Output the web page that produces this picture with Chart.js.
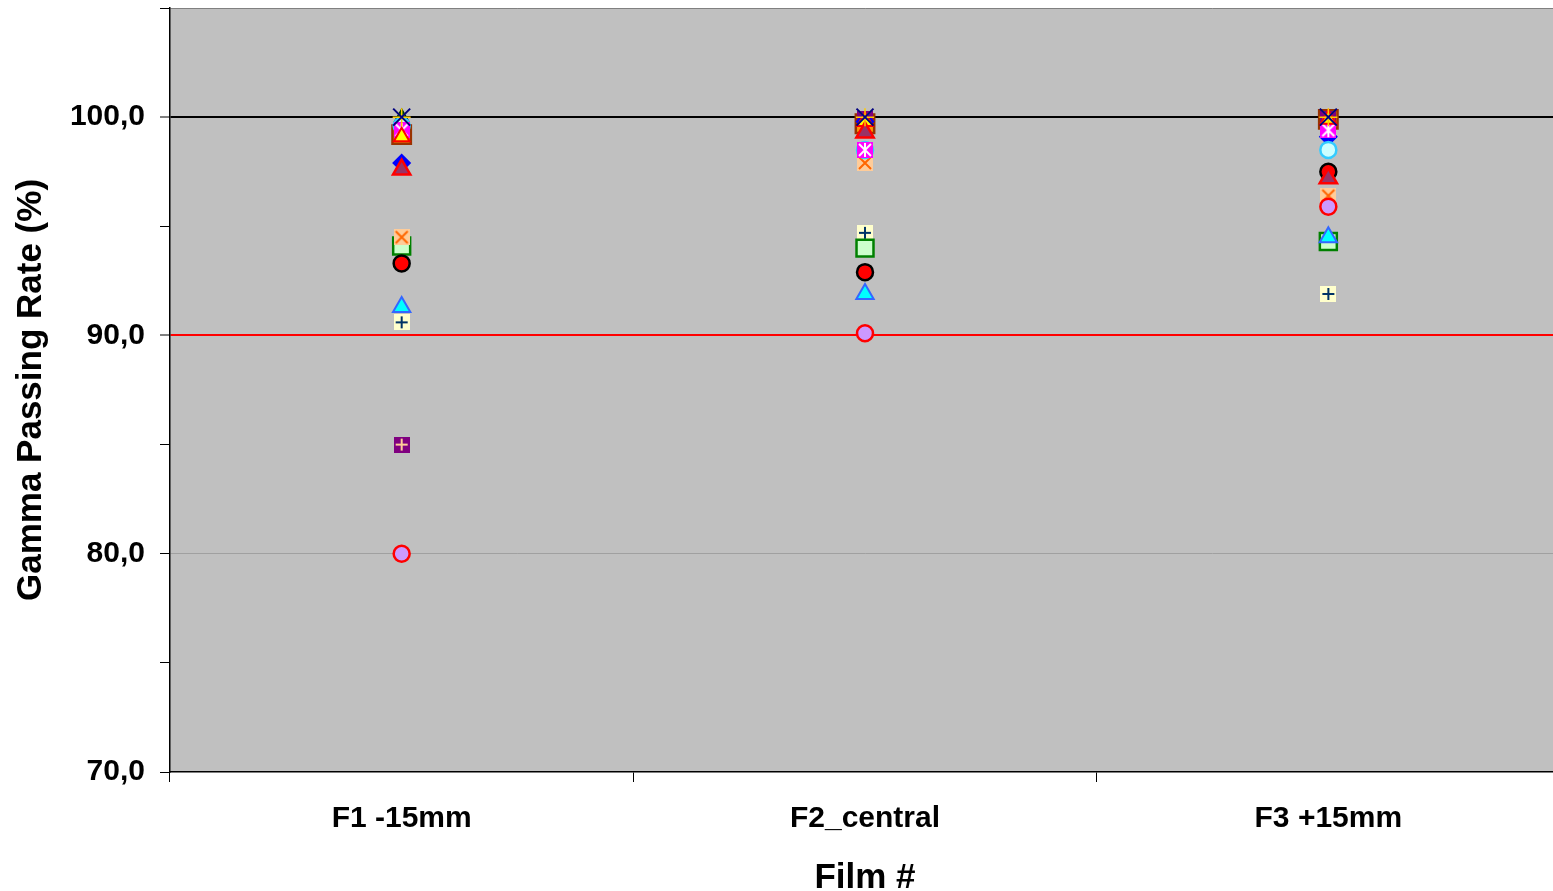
<!DOCTYPE html>
<html>
<head>
<meta charset="utf-8">
<script src="https://cdn.jsdelivr.net/npm/chart.js@4/dist/chart.umd.min.js"></script>
<style>
  html, body { margin: 0; padding: 0; background: #fff; overflow: hidden; }
  #wrap { width: 1561px; height: 891px; }
</style>
</head>
<body>
<div id="wrap"><canvas id="myChart" width="1561" height="891"></canvas></div>
<script>
// categories (films)
const films = ['F1 -15mm', 'F2_central', 'F3 +15mm'];

// gamma passing rates (%) per series
const navyX = [100.0, 100.0, 100.0];
const yellowStar = [100.0, 100.0, 100.0];
const cyanTri = [91.3, 91.9, 94.5];
const lavenderCircle = [80.0, 90.1, 95.9];
const redTri = [97.6, 99.3, 97.2];
const redCircle = [93.3, 92.9, 97.5];
const yellowTri = [99.1, 99.8, 99.9];
const magentaStar = [99.4, 98.5, 99.4];
const cyanCircle = [99.6, 98.5, 98.5];
const blueDiamond = [97.9, 99.8, 99.1];
const greenTri = [100.0, 99.8, 99.9];
const orangeXBox = [94.5, 97.9, 96.4];
const greenSquare = [94.1, 94.0, 94.3];
const plusBox = [90.6, 94.7, 91.9];
const purplePlusBox = [85.0, 99.9, 99.9];
const brownSquare = [99.2, 99.7, 99.9];

// y axis ticks
const yMin = 70, yMax = 105, yStep = 5;
const labelledTicks = [70, 80, 90, 100];

// small canvases for the Excel-style boxed markers
function boxMarker(fill, stroke, kind) {
  const s = 16;
  const c = document.createElement('canvas');
  c.width = s; c.height = s;
  const g = c.getContext('2d');
  g.fillStyle = fill;
  g.fillRect(0, 0, s, s);
  g.strokeStyle = stroke;
  g.lineWidth = 2;
  g.beginPath();
  if (kind === 'x' || kind === 'star') {
    g.moveTo(2, 2); g.lineTo(s - 2, s - 2);
    g.moveTo(s - 2, 2); g.lineTo(2, s - 2);
  }
  if (kind === 'plus') {
    g.moveTo(s / 2, 2); g.lineTo(s / 2, s - 2);
    g.moveTo(2, s / 2); g.lineTo(s - 2, s / 2);
  }
  if (kind === 'star') {
    g.moveTo(s / 2, 1); g.lineTo(s / 2, s - 1);
  }
  g.stroke();
  return c;
}

function series(label, data, style) {
  return Object.assign({
    label: label,
    data: data,
    showLine: false,
    pointRadius: 8,
    pointBorderWidth: 1.5
  }, style);
}

// first dataset is drawn on top
const datasets = [
  series('navyX', navyX, { pointStyle: 'crossRot', pointRadius: 12, pointBorderWidth: 2, borderColor: '#000080', backgroundColor: '#000080' }),
  series('yellowStar', yellowStar, { pointStyle: 'star', pointRadius: 9, borderColor: '#FFCC00', backgroundColor: '#FFCC00' }),
  series('cyanTri', cyanTri, { pointStyle: 'triangle', pointRadius: 10, pointBorderWidth: 2, borderColor: '#3366FF', backgroundColor: '#00FFFF' }),
  series('lavenderCircle', lavenderCircle, { pointStyle: 'circle', pointRadius: 8, pointBorderWidth: 2.5, borderColor: '#FF0000', backgroundColor: '#CC99FF' }),
  series('redTri', redTri, { pointStyle: 'triangle', pointRadius: 10, pointBorderWidth: 2.5, borderColor: '#FF0000', backgroundColor: '#993366' }),
  series('redCircle', redCircle, { pointStyle: 'circle', pointRadius: 8, pointBorderWidth: 2.5, borderColor: '#000000', backgroundColor: '#FF0000' }),
  series('yellowTri', yellowTri, { pointStyle: 'triangle', pointRadius: 9, pointBorderWidth: 2, borderColor: '#FF0000', backgroundColor: '#FFFF00' }),
  series('magentaStar', magentaStar, { pointStyle: boxMarker('#FF00FF', '#FFFFFF', 'star') }),
  series('cyanCircle', cyanCircle, { pointStyle: 'circle', pointRadius: 8, pointBorderWidth: 2.5, borderColor: '#33CCFF', backgroundColor: '#CCFFFF' }),
  series('blueDiamond', blueDiamond, { pointStyle: 'rectRot', pointRadius: 8.5, borderColor: '#0000FF', backgroundColor: '#0000FF' }),
  series('greenTri', greenTri, { pointStyle: 'triangle', pointRadius: 8, borderColor: '#003300', backgroundColor: '#006600' }),
  series('orangeXBox', orangeXBox, { pointStyle: boxMarker('#FFCC99', '#FF6600', 'x') }),
  series('greenSquare', greenSquare, { pointStyle: 'rect', pointRadius: 12, pointBorderWidth: 2.5, borderColor: '#008000', backgroundColor: '#CCFFCC' }),
  series('plusBox', plusBox, { pointStyle: boxMarker('#FFFFCC', '#003366', 'plus') }),
  series('purplePlusBox', purplePlusBox, { pointStyle: boxMarker('#800080', '#FFCC99', 'plus') }),
  series('brownSquare', brownSquare, { pointStyle: 'rect', pointRadius: 13, pointBorderWidth: 2.5, borderColor: '#993300', backgroundColor: '#FF9900' })
];

// grey plot area like the spreadsheet chart
const plotBackground = {
  id: 'plotBackground',
  beforeDraw(chart) {
    const { ctx, chartArea } = chart;
    ctx.save();
    ctx.fillStyle = '#C0C0C0';
    ctx.fillRect(chartArea.left, chartArea.top, chartArea.right - chartArea.left, chartArea.bottom - chartArea.top);
    ctx.restore();
  }
};

// reference lines come from the y grid: 100 black, 90 red, 80 grey
function gridColor(ctx) {
  const v = ctx.tick ? ctx.tick.value : null;
  if (v === 100) return '#000000';
  if (v === 90) return '#FF0000';
  if (v === 80) return '#A0A0A0';
  if (v === 105) return '#808080';
  return 'rgba(0,0,0,0)';
}
function gridWidth(ctx) {
  const v = ctx.tick ? ctx.tick.value : null;
  return (v === 100 || v === 90) ? 2 : 1;
}

const fontFamily = "'Liberation Sans', Arial, sans-serif";

new Chart(document.getElementById('myChart'), {
  type: 'line',
  data: { labels: films, datasets: datasets },
  plugins: [plotBackground],
  options: {
    responsive: false,
    animation: false,
    layout: { autoPadding: false, padding: { top: 8, right: 1, left: 0, bottom: 0 } },
    plugins: { legend: { display: false }, tooltip: { enabled: false } },
    scales: {
      x: {
        type: 'category',
        offset: true,
        afterFit: (scale) => {
          scale.height = 119;
          scale.paddingLeft = 0;
          scale.paddingRight = 0;
        },
        grid: { offset: true, drawOnChartArea: false, tickLength: 10, tickColor: '#000', tickWidth: 1 },
        border: { color: '#000', width: 1.5 },
        ticks: { color: '#000', padding: 19, font: { family: fontFamily, size: 30, weight: 'bold' }, maxRotation: 0 },
        title: { display: true, text: 'Film #', color: '#000', padding: { top: 0, bottom: -5 },
                 font: { family: fontFamily, size: 35, weight: 'bold', lineHeight: 1 } }
      },
      y: {
        min: yMin,
        max: yMax,
        afterFit: (scale) => {
          scale.width = 170;
          scale.paddingTop = 0;
          scale.paddingBottom = 0;
        },
        grid: { color: gridColor, lineWidth: gridWidth, tickLength: 10, tickColor: '#000', tickWidth: 1 },
        border: { color: '#000', width: 1.5 },
        ticks: {
          stepSize: yStep,
          color: '#000',
          padding: 15,
          font: { family: fontFamily, size: 30, weight: 'bold' },
          callback: (v) => labelledTicks.includes(v) ? v.toFixed(1).replace('.', ',') : ''
        },
        title: { display: true, text: 'Gamma Passing Rate (%)', color: '#000', padding: { top: 14, bottom: 0 },
                 font: { family: fontFamily, size: 35, weight: 'bold', lineHeight: 1 } }
      }
    }
  }
});
</script>
</body>
</html>
